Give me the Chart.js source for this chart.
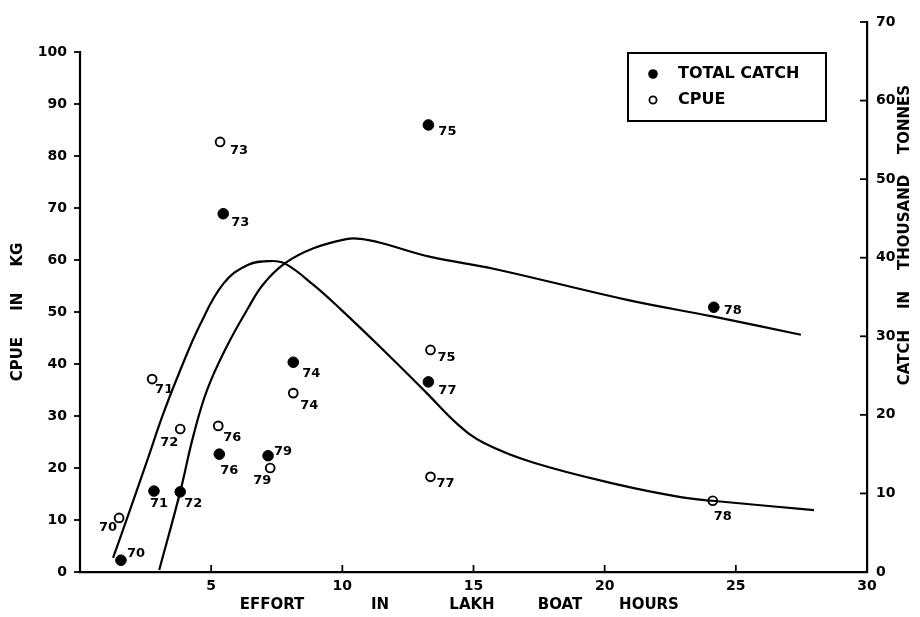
<!DOCTYPE html>
<html><head><meta charset="utf-8">
<script src="https://cdn.jsdelivr.net/npm/chart.js@4/dist/chart.umd.min.js"></script>
<style>html,body{margin:0;padding:0;background:#fff}canvas{display:block}</style>
</head><body>
<canvas id="c" width="920" height="617"></canvas>
<script>
// ---------- data ----------
const years = ['70','71','72','73','74','75','76','77','78','79'];
// Total catch (thousand tonnes, right axis) vs effort (lakh boat hours)
const catchEffort = [1.56, 2.82, 3.82, 5.46, 8.13, 13.28, 5.31, 13.28, 24.16, 7.17];
const catchValues = [1.5, 10.3, 10.2, 45.6, 26.7, 56.9, 15.0, 24.2, 33.7, 14.8];
// CPUE (kg, left axis) vs effort
const cpueEffort = [1.49, 2.75, 3.82, 5.34, 8.13, 13.36, 5.27, 13.36, 24.12, 7.25];
const cpueValues = [10.4, 37.1, 27.5, 82.7, 34.4, 42.7, 28.1, 18.3, 13.7, 20.0];
// fitted curves
const cpueCurveEffort = [1.26, 1.91, 2.56, 3.17, 3.82, 4.58, 5.46, 6.37, 7.25, 7.82, 8.9, 9.92, 11.56, 13.2, 14.4, 15.4, 17.3, 20.6, 22.9, 24.1, 27.98];
const cpueCurveValues = [2.7, 12.0, 21.4, 30.4, 38.8, 47.6, 55.4, 59.0, 59.8, 59.3, 55.2, 50.6, 42.7, 34.5, 28.4, 24.8, 21.0, 16.7, 14.4, 13.7, 11.9];
const catchCurveEffort = [3.02, 3.82, 4.31, 4.85, 5.61, 6.41, 6.98, 7.82, 8.9, 10.2, 10.7, 11.45, 13.36, 15.76, 20.9, 24.16, 27.48];
const catchCurveValues = [0.25, 10.2, 17.2, 23.2, 28.8, 33.6, 36.6, 39.3, 41.2, 42.4, 42.4, 41.9, 40.1, 38.6, 34.6, 32.5, 30.2];
// tick labels
const xTicks = [5, 10, 15, 20, 25, 30];
const leftTicks = [0, 10, 20, 30, 40, 50, 60, 70, 80, 90, 100];
const rightTicks = [0, 10, 20, 30, 40, 50, 60, 70];
// texts
const xTitleWords = ['EFFORT', 'IN', 'LAKH', 'BOAT', 'HOURS'];
const leftTitle = 'CPUE     IN     KG';
const rightTitle = 'CATCH    IN    THOUSAND    TONNES';
const legendLabels = ['TOTAL CATCH', 'CPUE'];

// ---------- styling (not data) ----------
const catchLabelOffsets = [[15,-7],[5,13],[13,12],[17,9],[18,11],[19,7],[10,16],[19,9],[19,3],[15,-4]];
const cpueLabelOffsets  = [[-11,10],[12,11],[-11,14],[19,9],[16,13],[16,8],[14,12],[15,7],[10,16],[-8,13]];
const xTitleWordCenters = [272, 380, 472, 560, 649];
const FONT = '"DejaVu Sans", "Liberation Sans", sans-serif';

const zip = (xs, ys) => xs.map((x, i) => ({x, y: ys[i]}));

const decor = {
  id: 'decor',
  afterDatasetsDraw(chart) {
    const ctx = chart.ctx, a = chart.chartArea;
    const sx = chart.scales.x, sl = chart.scales.y, sr = chart.scales.yR;
    ctx.save();
    ctx.strokeStyle = '#000'; ctx.fillStyle = '#000';
    // left axis line 0..100
    ctx.lineWidth = 2.2;
    ctx.beginPath();
    ctx.moveTo(a.left, sl.getPixelForValue(0) + 1);
    ctx.lineTo(a.left, sl.getPixelForValue(100) - 1);
    ctx.stroke();
    ctx.lineWidth = 1.8;
    // left ticks outward
    leftTicks.forEach(v => { const y = sl.getPixelForValue(v); ctx.beginPath(); ctx.moveTo(a.left - 6, y); ctx.lineTo(a.left, y); ctx.stroke(); });
    // x ticks inward
    xTicks.forEach(v => { const x = sx.getPixelForValue(v); ctx.beginPath(); ctx.moveTo(x, a.bottom); ctx.lineTo(x, a.bottom - 7); ctx.stroke(); });
    // right ticks inward
    rightTicks.forEach(v => { const y = sr.getPixelForValue(v); ctx.beginPath(); ctx.moveTo(a.right, y); ctx.lineTo(a.right - 7, y); ctx.stroke(); });

    // point year labels
    ctx.font = 'bold 13px ' + FONT;
    ctx.textAlign = 'center'; ctx.textBaseline = 'middle';
    const m0 = chart.getDatasetMeta(2), m1 = chart.getDatasetMeta(3);
    m0.data.forEach((p, i) => ctx.fillText(years[i], p.x + catchLabelOffsets[i][0], p.y + catchLabelOffsets[i][1]));
    m1.data.forEach((p, i) => ctx.fillText(years[i], p.x + cpueLabelOffsets[i][0], p.y + cpueLabelOffsets[i][1]));

    // legend box
    const bx = a.right - 239, by = a.top + 31, bw = 198, bh = 68;
    ctx.lineWidth = 2;
    ctx.strokeRect(bx, by, bw, bh);
    ctx.beginPath(); ctx.arc(bx + 25, by + 21, 4.8, 0, Math.PI * 2); ctx.fill();
    ctx.beginPath(); ctx.arc(bx + 25, by + 47, 3.6, 0, Math.PI * 2); ctx.lineWidth = 1.8; ctx.stroke();
    ctx.font = 'bold 16px ' + FONT;
    ctx.textAlign = 'left';
    ctx.fillText(legendLabels[0], bx + 50, by + 21);
    ctx.fillText(legendLabels[1], bx + 50, by + 47);

    // axis titles
    ctx.font = 'bold 15px ' + FONT;
    ctx.textAlign = 'center';
    xTitleWords.forEach((w, i) => ctx.fillText(w, xTitleWordCenters[i], 605));
    ctx.save(); ctx.translate(18, 312); ctx.rotate(-Math.PI / 2); ctx.fillText(leftTitle, 0, 0); ctx.restore();
    ctx.save(); ctx.translate(905, 235); ctx.rotate(-Math.PI / 2); ctx.fillText(rightTitle, 0, 0); ctx.restore();
    ctx.restore();
  }
};

const tickFont = {family: FONT, size: 14, weight: 'bold'};

new Chart(document.getElementById('c'), {
  type: 'scatter',
  data: {
    datasets: [
      { label: 'cpue curve', data: zip(cpueCurveEffort, cpueCurveValues), yAxisID: 'y', showLine: true,
        borderColor: '#000', borderWidth: 2.2, pointRadius: 0, tension: 0.4, fill: false },
      { label: 'catch curve', data: zip(catchCurveEffort, catchCurveValues), yAxisID: 'yR', showLine: true,
        borderColor: '#000', borderWidth: 2.2, pointRadius: 0, tension: 0.4, fill: false },
      { label: legendLabels[0], data: zip(catchEffort, catchValues), yAxisID: 'yR',
        pointRadius: 5.3, pointBackgroundColor: '#000', pointBorderColor: '#000', pointBorderWidth: 1 },
      { label: legendLabels[1], data: zip(cpueEffort, cpueValues), yAxisID: 'y',
        pointRadius: 4.4, pointBackgroundColor: '#fff', pointBorderColor: '#000', pointBorderWidth: 1.9 }
    ]
  },
  options: {
    responsive: false, animation: false, devicePixelRatio: 1,
    layout: {padding: {top: 22, left: 0, right: 0, bottom: 0}},
    plugins: {legend: {display: false}, tooltip: {enabled: false}},
    scales: {
      x: {
        type: 'linear', position: 'bottom', min: 0, max: 30,
        afterBuildTicks: s => { s.ticks = xTicks.map(v => ({value: v})); },
        afterFit: s => { s.height = 45; },
        grid: {display: false, drawTicks: false},
        border: {display: true, color: '#000', width: 2.2},
        ticks: {color: '#000', font: tickFont, padding: 6, maxRotation: 0}
      },
      y: {
        type: 'linear', position: 'left', min: 0, max: 105.77,
        afterBuildTicks: s => { s.ticks = leftTicks.map(v => ({value: v})); },
        afterFit: s => { s.width = 80; },
        grid: {display: false, drawTicks: false},
        border: {display: false},
        ticks: {color: '#000', font: tickFont, padding: 13}
      },
      yR: {
        type: 'linear', position: 'right', min: 0, max: 70,
        afterBuildTicks: s => { s.ticks = rightTicks.map(v => ({value: v})); },
        afterFit: s => { s.width = 53; },
        grid: {display: false, drawTicks: false},
        border: {display: true, color: '#000', width: 2.2},
        ticks: {color: '#000', font: tickFont, padding: 9}
      }
    }
  },
  plugins: [decor]
});
</script>
</body></html>
